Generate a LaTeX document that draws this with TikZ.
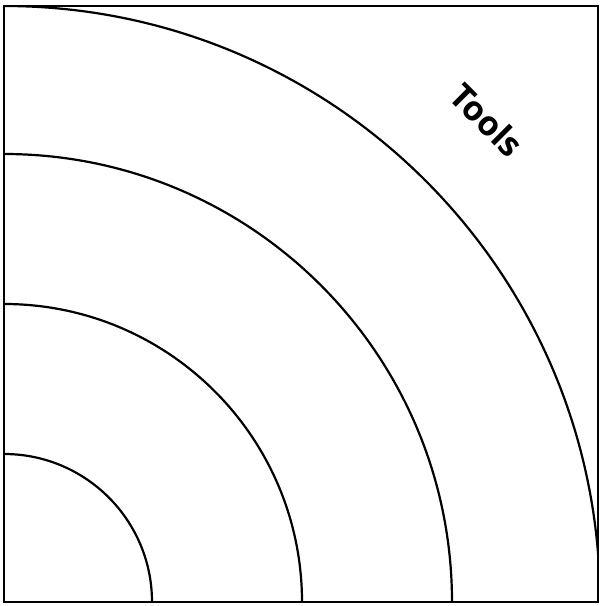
\documentclass[tikz,border=0pt]{standalone}
\usepackage{fontspec}
\setsansfont{Open Sans}
\usetikzlibrary{math}

\begin{document}
\begin{tikzpicture}[x=1pt,y=1pt,line width=2.2pt]
\tikzmath{
\W=594; \H=596;
}
\useasboundingbox (-4,-4) rectangle (600,602);

\draw (0,0) rectangle (\W,\H);

\begin{scope}
\clip (0,0) rectangle (\W,\H);
\draw (148,0) arc[start angle=0, end angle=90, radius=148];
\draw (298,0) arc[start angle=0, end angle=90, radius=298];
\draw (448,0) arc[start angle=0, end angle=90, radius=448];
\draw (596,0) arc[start angle=0, end angle=90, radius=596];
\end{scope}

\node[rotate=-45, font=\sffamily\bfseries\fontsize{34}{40}\selectfont] (tools) at (483,482) {Tools};

\end{tikzpicture}
\end{document}
